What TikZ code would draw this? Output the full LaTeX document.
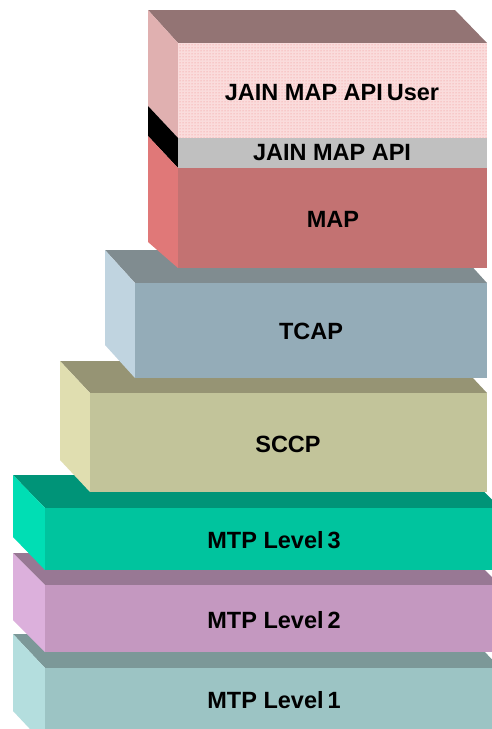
\documentclass[tikz,border=0pt]{standalone}
\usepackage{fontspec}
\setmainfont{Liberation Sans}
\usetikzlibrary{patterns}

% layer colours: top face / front face / left side
\definecolor{usrTop}{HTML}{937474}
\definecolor{usrSide}{HTML}{E0B0B0}
\definecolor{usrFront}{HTML}{FADCDC}
\definecolor{usrDots}{HTML}{F08888}
\definecolor{apiFront}{HTML}{C0C0C0}
\definecolor{apiSide}{HTML}{000000}
\definecolor{mapFront}{HTML}{C37272}
\definecolor{mapSide}{HTML}{E07878}
\definecolor{tcapTop}{HTML}{808C90}
\definecolor{tcapFront}{HTML}{94ACB8}
\definecolor{tcapSide}{HTML}{C0D4E0}
\definecolor{sccpTop}{HTML}{969474}
\definecolor{sccpFront}{HTML}{C2C49A}
\definecolor{sccpSide}{HTML}{E0DEB0}
\definecolor{mtpThreeTop}{HTML}{009478}
\definecolor{mtpThreeFront}{HTML}{00C49E}
\definecolor{mtpThreeSide}{HTML}{00DEB4}
\definecolor{mtpTwoTop}{HTML}{987894}
\definecolor{mtpTwoFront}{HTML}{C498C0}
\definecolor{mtpTwoSide}{HTML}{DCB0DC}
\definecolor{mtpOneTop}{HTML}{7C9898}
\definecolor{mtpOneFront}{HTML}{9CC4C4}
\definecolor{mtpOneSide}{HTML}{B4DEDE}

% one slab of the stack:
% #1 back-left x, #2 front-left x, #3 back top y, #4 front top y,
% #5 front bottom y, #6 right x, #7 top colour, #8 front colour, #9 side colour
\newcommand\stackslab[9]{%
  \fill[#7] (#1,#3) -- ({#6-(#2-#1)},#3) -- (#6,#4) -- (#2,#4) -- cycle;
  \fill[#9] (#1,#3) -- (#2,#4) -- (#2,#5) -- (#1,{#5-(#4-#3)}) -- cycle;
  \fill[#8] (#2,#4) rectangle (#6,#5);
}

\tikzset{
  layerlabel/.style={font=\fontsize{23.5}{26}\selectfont\bfseries, text=black,
                     inner sep=0pt, anchor=center}
}

\begin{document}
\begin{tikzpicture}[x=1pt,y=-1pt]
  \useasboundingbox (0,0) rectangle (492,729);
  \clip (0,0) rectangle (492,729);

  % bottom to top
  \stackslab{13}{45}{634}{668}{745}{500}{mtpOneTop}{mtpOneFront}{mtpOneSide}
  \stackslab{13}{45}{553}{585}{652}{500}{mtpTwoTop}{mtpTwoFront}{mtpTwoSide}
  \stackslab{13}{45}{475}{508}{570}{500}{mtpThreeTop}{mtpThreeFront}{mtpThreeSide}
  \stackslab{60}{90}{361}{393}{492}{487}{sccpTop}{sccpFront}{sccpSide}
  \stackslab{105}{135}{250}{283}{378}{487}{tcapTop}{tcapFront}{tcapSide}

  % upper block: API user / JAIN MAP API / MAP
  \fill[usrTop] (148,10) -- (455,10) -- (487,43) -- (178,43) -- cycle;
  \fill[usrSide] (148,10) -- (178,43) -- (178,138) -- (148,106) -- cycle;
  \fill[apiSide] (148,106) -- (178,138) -- (178,168) -- (148,136) -- cycle;
  \fill[mapSide] (148,136) -- (178,168) -- (178,268) -- (148,242) -- cycle;
  \fill[usrFront] (178,43) rectangle (487,138);
  \fill[pattern=dots, pattern color=usrDots] (178,43) rectangle (487,138);
  \fill[apiFront] (178,138) rectangle (487,168);
  \fill[mapFront] (178,168) rectangle (487,268);

  % labels
  \node[layerlabel] (apiuser) at (332,93) {JAIN MAP API\,User};
  \node[layerlabel] (api)     at (332,153) {JAIN MAP API};
  \node[layerlabel] (map)     at (333,219) {MAP};
  \node[layerlabel] (tcap)    at (311,331) {TCAP};
  \node[layerlabel] (sccp)    at (288,444) {SCCP};
  \node[layerlabel] (mtp3)    at (274,540) {MTP Level\,3};
  \node[layerlabel] (mtp2)    at (274,620) {MTP Level\,2};
  \node[layerlabel] (mtp1)    at (274,700) {MTP Level\,1};
\end{tikzpicture}
\end{document}
